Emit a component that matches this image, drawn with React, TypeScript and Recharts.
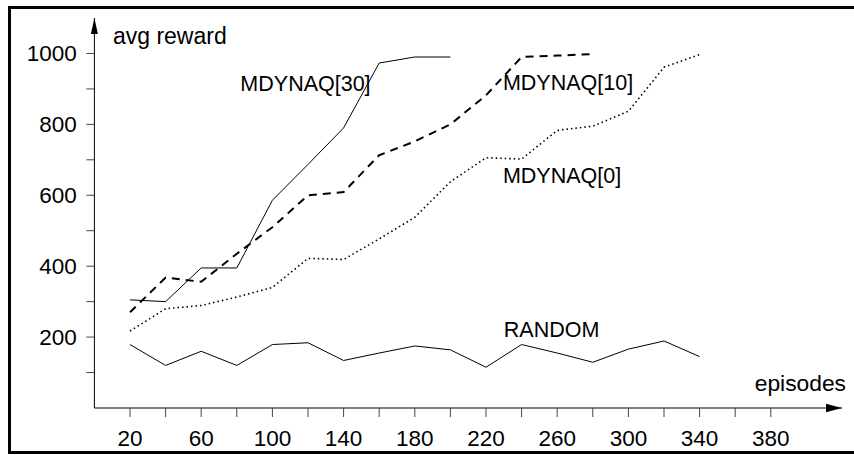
import React from 'react';
import { LineChart, Line, XAxis, YAxis, ReferenceDot } from 'recharts';

const episodes = [20, 40, 60, 80, 100, 120, 140, 160, 180, 200, 220, 240, 260, 280, 300, 320, 340];
const randomVals = [179, 120, 160, 120, 179, 184, 134, 155, 175, 164, 115, 179, 155, 129, 166, 189, 145];
const mdynaq30 = [305, 300, 395, 395, 586, 687, 790, 973, 990, 990];
const mdynaq10 = [270, 368, 356, 435, 510, 600, 609, 713, 752, 800, 882, 990, 994, 998];
const mdynaq0 = [217, 280, 289, 313, 340, 422, 419, 477, 538, 638, 706, 702, 783, 795, 837, 961, 997];

const xTicks = [20, 40, 60, 80, 100, 120, 140, 160, 180, 200, 220, 240, 260, 280, 300, 320, 340, 360, 380];
const yTicks = [100, 200, 300, 400, 500, 600, 700, 800, 900, 1000];

const annotations = [
  { text: 'avg reward', x: 10.4, y: 1027, size: 23 },
  { text: 'MDYNAQ[30]', x: 82, y: 895, size: 21.5 },
  { text: 'MDYNAQ[10]', x: 229.5, y: 897, size: 21.5 },
  { text: 'MDYNAQ[0]', x: 229.5, y: 635, size: 21.5 },
  { text: 'RANDOM', x: 230, y: 201, size: 21.5 },
  { text: 'episodes', x: 371, y: 48, size: 22.8 },
];

const data = episodes.map((e, i) => ({
  ep: e,
  random: randomVals[i] ?? null,
  m30: mdynaq30[i] ?? null,
  m10: mdynaq10[i] ?? null,
  m0: mdynaq0[i] ?? null,
}));

const FONT = '"Liberation Sans", Arial, Helvetica, sans-serif';

const UpArrow = (props: any) => {
  const { cx, cy } = props;
  return <polygon points={`${cx},${cy} ${cx - 3.5},${cy + 16} ${cx + 3.5},${cy + 16}`} fill="#000" />;
};
const RightArrow = (props: any) => {
  const { cx, cy } = props;
  return <polygon points={`${cx},${cy} ${cx - 16},${cy - 4.3} ${cx - 16},${cy + 4.3}`} fill="#000" />;
};

export default function App() {
  return (
    <div style={{ position: 'absolute', left: 0, top: 0, width: 854, height: 455, overflow: 'hidden', background: '#fff' }}>
      <div
        style={{
          position: 'absolute',
          left: 8,
          top: 6,
          width: 870,
          height: 448,
          border: '3px solid #000',
          boxSizing: 'border-box',
        }}
      />
      <div style={{ position: 'absolute', left: 0, top: 0 }}>
        <LineChart
          width={854}
          height={455}
          data={data}
          margin={{ top: 18, right: 12, bottom: 7, left: 14.4 }}
          style={{ fontFamily: FONT }}
        >
          <XAxis
            dataKey="ep"
            type="number"
            domain={[0, 420]}
            ticks={xTicks}
            tickFormatter={(v: number) => ((v - 20) % 40 === 0 ? String(v) : '')}
            tick={{ fill: '#000', fontSize: 22.5, fontFamily: FONT }}
            tickSize={9}
            tickMargin={13}
            axisLine={{ stroke: '#000', strokeWidth: 1 }}
            tickLine={{ stroke: '#444', strokeWidth: 1 }}
            height={40}
            allowDataOverflow
          />
          <YAxis
            type="number"
            domain={[0, 1100]}
            ticks={yTicks}
            tickFormatter={(v: number) => (v % 200 === 0 ? String(v) : '')}
            tick={{ fill: '#000', fontSize: 22.5, fontFamily: FONT }}
            tickSize={8}
            tickMargin={9.5}
            axisLine={{ stroke: '#000', strokeWidth: 1 }}
            tickLine={{ stroke: '#444', strokeWidth: 1 }}
            width={80}
            allowDataOverflow
          />
          <Line
            type="linear"
            dataKey="random"
            stroke="#000"
            strokeWidth={1}
            dot={false}
            isAnimationActive={false}
          />
          <Line
            type="linear"
            dataKey="m30"
            stroke="#000"
            strokeWidth={1}
            dot={false}
            isAnimationActive={false}
          />
          <Line
            type="linear"
            dataKey="m10"
            stroke="#000"
            strokeWidth={2}
            strokeDasharray="8 6"
            dot={false}
            isAnimationActive={false}
          />
          <Line
            type="linear"
            dataKey="m0"
            stroke="#000"
            strokeWidth={1.6}
            strokeDasharray="1.5 3"
            dot={false}
            isAnimationActive={false}
          />
          <ReferenceDot x={0} y={1100} r={0} shape={UpArrow} ifOverflow="visible" />
          <ReferenceDot x={420} y={0} r={0} shape={RightArrow} ifOverflow="visible" />
          {annotations.map((a) => (
            <ReferenceDot
              key={a.text}
              x={a.x}
              y={a.y}
              r={0}
              ifOverflow="visible"
              shape={(p: any) => (
                <text x={p.cx} y={p.cy} fontSize={a.size} fontFamily={FONT} fill="#000">
                  {a.text}
                </text>
              )}
            />
          ))}
        </LineChart>
      </div>
    </div>
  );
}
